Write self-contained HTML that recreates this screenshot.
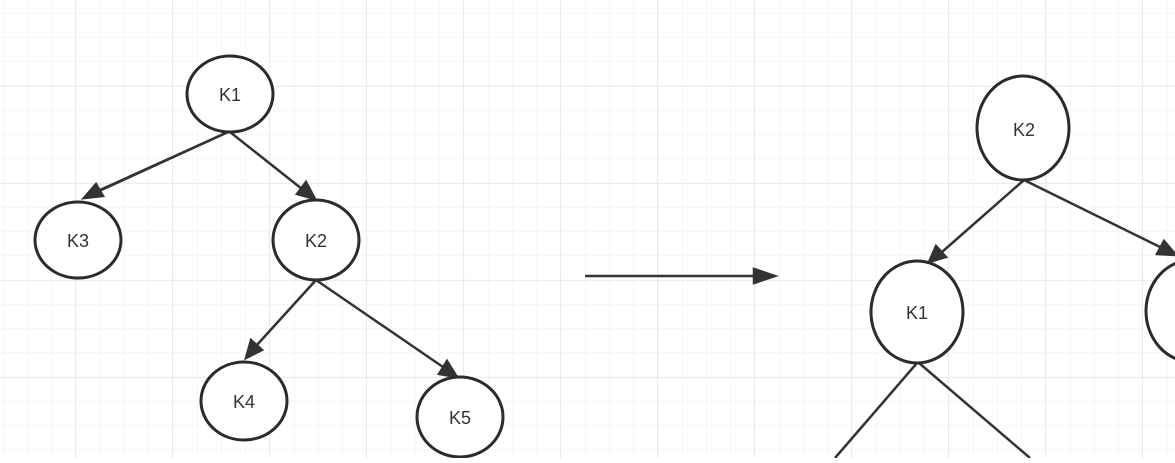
<!DOCTYPE html>
<html><head><style>html,body{margin:0;padding:0;background:#fff;overflow:hidden}</style></head>
<body>
<svg width="1175" height="458" xmlns="http://www.w3.org/2000/svg" font-family="'Liberation Sans',sans-serif">
<defs>
<pattern id="g" x="3" y="13" width="24.25" height="24.25" patternUnits="userSpaceOnUse">
<path d="M0 0H24.25M0 0V24.25" stroke="#efefef" stroke-width="1" fill="none"/>
</pattern>
<pattern id="G" x="75" y="86" width="97" height="97" patternUnits="userSpaceOnUse">
<path d="M0 0H97M0 0V97" stroke="#e6e6e6" stroke-width="1.5" fill="none"/>
</pattern>
<marker id="a" viewBox="0 0 10 10" refX="9" refY="5" markerWidth="7" markerHeight="7" markerUnits="userSpaceOnUse" orient="auto">
<path d="M0 0L10 5L0 10z" fill="#2b2b2b"/>
</marker>
</defs>
<rect width="1175" height="458" fill="url(#g)"/>
<rect width="1175" height="458" fill="url(#G)"/>
<g stroke="#2b2b2b" stroke-width="2.5" fill="none">
<line x1="228" y1="132" x2="86" y2="197" marker-end="url(#a)" style="marker-end:none"/>
</g>
<g stroke="#333" stroke-width="2.5" fill="#333">
<line x1="228" y1="132" x2="100" y2="190"/><path d="M84 198L96 184L103 196z"/>
<line x1="230" y1="132" x2="302" y2="189"/><path d="M315 199L297 194L306 182z"/>
<line x1="316" y1="280" x2="256" y2="346"/><path d="M246 358L251 340L262 350z"/>
<line x1="316" y1="280" x2="443" y2="367"/><path d="M457 377L439 374L447 361z"/>
<line x1="585" y1="276" x2="755" y2="276"/><path d="M775 276L754 269L754 283z"/>
<line x1="1024" y1="180" x2="942" y2="252"/><path d="M929 262L936 246L946 257z"/>
<line x1="1024" y1="180" x2="1162" y2="248"/><path d="M1176 255L1157 254L1164 241z"/>
<line x1="917" y1="363" x2="835" y2="458"/>
<line x1="919" y1="363" x2="1030" y2="458"/>
</g>
<g stroke="#2b2b2b" stroke-width="3" fill="#fff">
<ellipse cx="230" cy="94" rx="43" ry="38"/>
<ellipse cx="78" cy="240" rx="43" ry="38"/>
<ellipse cx="316" cy="240" rx="43" ry="40"/>
<ellipse cx="244" cy="401" rx="43" ry="39"/>
<ellipse cx="460" cy="417" rx="43" ry="40"/>
<ellipse cx="1023" cy="128" rx="46" ry="52"/>
<ellipse cx="917" cy="312" rx="46" ry="51"/>
<ellipse cx="1192" cy="311" rx="46" ry="51"/>
</g>
<g font-size="18" fill="#333" text-anchor="middle">
<text x="230" y="101">K1</text>
<text x="78" y="247">K3</text>
<text x="316" y="247">K2</text>
<text x="244" y="408">K4</text>
<text x="460" y="424">K5</text>
<text x="1024" y="136">K2</text>
<text x="917" y="319">K1</text>
</g>
</svg>
</body></html>
